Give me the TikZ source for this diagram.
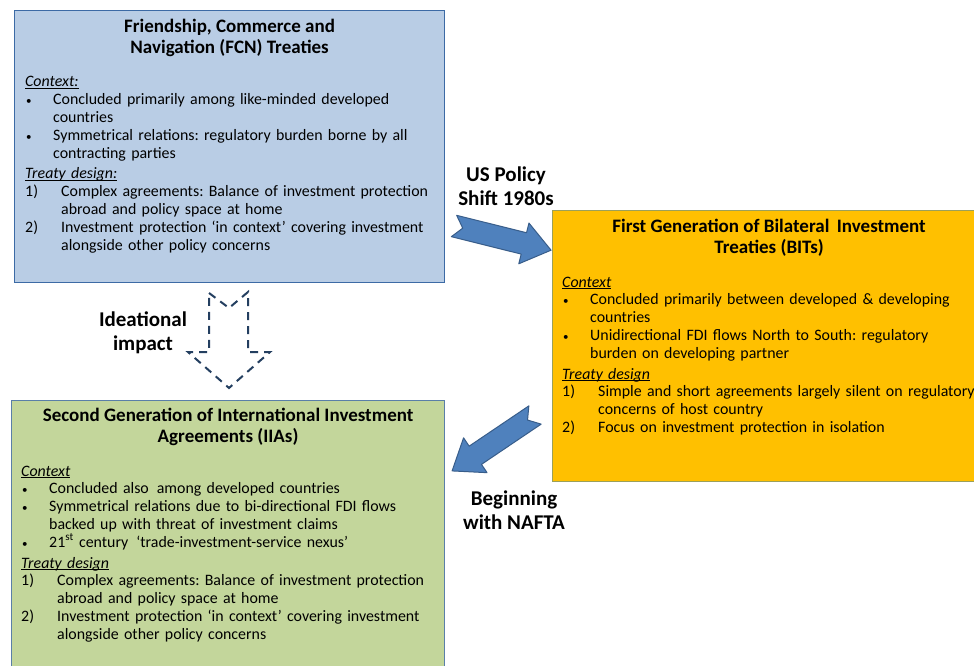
\documentclass[tikz,border=0pt]{standalone}
\usepackage{fontspec}
\setmainfont{Carlito}
\usetikzlibrary{positioning}
\frenchspacing

\definecolor{fcnfill}{HTML}{B9CDE5}
\definecolor{fcnline}{HTML}{3C6AA5}
\definecolor{bitfill}{HTML}{FFC000}
\definecolor{bitline}{HTML}{9BA05A}
\definecolor{iiafill}{HTML}{C3D69B}
\definecolor{iialine}{HTML}{5A7FA8}
\definecolor{arrowfill}{HTML}{4F81BD}
\definecolor{arrowline}{HTML}{385D8A}
\definecolor{dashline}{HTML}{243F60}

% list items with hanging indent
\newcommand{\bitem}{\par\hangindent=28pt\hangafter=1\noindent\makebox[28pt][l]{\hspace{1pt}{\fontsize{11}{11}\selectfont\textbullet}}}
\newcommand{\nitem}[1]{\par\hangindent=36pt\hangafter=1\noindent\makebox[36pt][l]{#1}}
\newcommand{\sect}[1]{\par\noindent\setbox0\hbox{\textit{#1}}\rlap{\rule[-1.8pt]{\wd0}{0.7pt}}\box0}

\tikzset{
  treatybox/.style={draw, line width=1.2pt, anchor=north west, inner sep=0pt},
  boxtitle/.style={align=center, inner sep=0pt, font={\fontsize{19}{21}\selectfont\bfseries}},
  boxbody/.style={text width=460pt, align=left, inner sep=0pt,
    font={\fontsize{15.9}{17.8}\selectfont\parindent=0pt\parskip=0pt}},
  steplabel/.style={align=center, inner sep=0pt, font={\fontsize{21}{24}\selectfont\bfseries}},
  pics/notcharrow/.style={code={
    \draw[fill=arrowfill, draw=arrowline, line width=1pt, line join=round]
      (0,-11) -- (72,-11) -- (72,-21) -- (100,0) -- (72,21) -- (72,11) -- (0,11) -- (9,0) -- cycle;
  }}
}

\begin{document}
\begin{tikzpicture}[x=1pt, y=-1pt]
  \useasboundingbox[fill=white] (0,0) rectangle (974,666);

  % the three treaty boxes
  \node[treatybox, fill=fcnfill, draw=fcnline, minimum width=430pt, minimum height=272pt] (fcn) at (14,10) {};
  \node[treatybox, fill=bitfill, draw=bitline, minimum width=433pt, minimum height=271pt] (bits) at (552,210) {};
  \node[treatybox, fill=iiafill, draw=iialine, minimum width=433pt, minimum height=290pt] (iias) at (11,400) {};

  \node[boxtitle, below=9pt of fcn.north] (fcntitle) {Friendship, Commerce and\\Navigation (FCN) Treaties};
  \node[boxbody, below right=59pt and 11pt of fcn.north west, anchor=north west] (fcnbody) {%
    \sect{Context:}
    \bitem Concluded primarily among like-minded developed\newline countries
    \bitem Symmetrical relations: regulatory burden borne by all\newline contracting parties
    \par\vspace{3pt}\sect{Treaty design:}
    \nitem{1)}Complex agreements: Balance of investment protection\newline abroad and policy space at home
    \nitem{2)}Investment protection ‘in context’ covering investment\newline alongside other policy concerns\par};

  \node[boxtitle, below=9pt of bits.north] (bitstitle) {First Generation of Bilateral\, Investment\\Treaties (BITs)};
  \node[boxbody, below right=59pt and 10pt of bits.north west, anchor=north west] (bitsbody) {%
    \sect{Context}
    \bitem Concluded primarily between developed \& developing\newline countries
    \bitem Unidirectional FDI flows North to South: regulatory\newline burden on developing partner
    \par\vspace{3pt}\sect{Treaty design}
    \nitem{1)}Simple and short agreements largely silent on regulatory\newline concerns of host country
    \nitem{2)}Focus on investment protection in isolation\par};

  \node[boxtitle, below=8pt of iias.north] (iiastitle) {Second Generation of International Investment\\Agreements (IIAs)};
  \node[boxbody, below right=58pt and 10pt of iias.north west, anchor=north west] (iiasbody) {%
    \sect{Context}
    \bitem Concluded also\, among developed countries
    \bitem Symmetrical relations due to bi-directional FDI flows\newline backed up with threat of investment claims
    \bitem 21\textsuperscript{st} century\, ‘trade-investment-service nexus’
    \par\vspace{3pt}\sect{Treaty design}
    \nitem{1)}Complex agreements: Balance of investment protection\newline abroad and policy space at home
    \nitem{2)}Investment protection ‘in context’ covering investment\newline alongside other policy concerns\par};

  % arrows between the generations
  \pic[rotate=-14] at (454,226) {notcharrow};
  \pic[rotate=214] at (535,415) {notcharrow};
  \draw[dashline, line width=2pt, dash pattern=on 8pt off 6pt, line join=miter]
    (209,293) -- (229,308) -- (248,292) -- (248,352) -- (270,352) -- (229,388)
    -- (188,352) -- (209,352) -- cycle;

  \node[steplabel] (shift) at (506,186) {US Policy\\Shift 1980s};
  \node[steplabel] (ideas) at (143,333) {Ideational\\impact};
  \node[steplabel] (nafta) at (514,510) {Beginning\\with NAFTA};
\end{tikzpicture}
\end{document}
